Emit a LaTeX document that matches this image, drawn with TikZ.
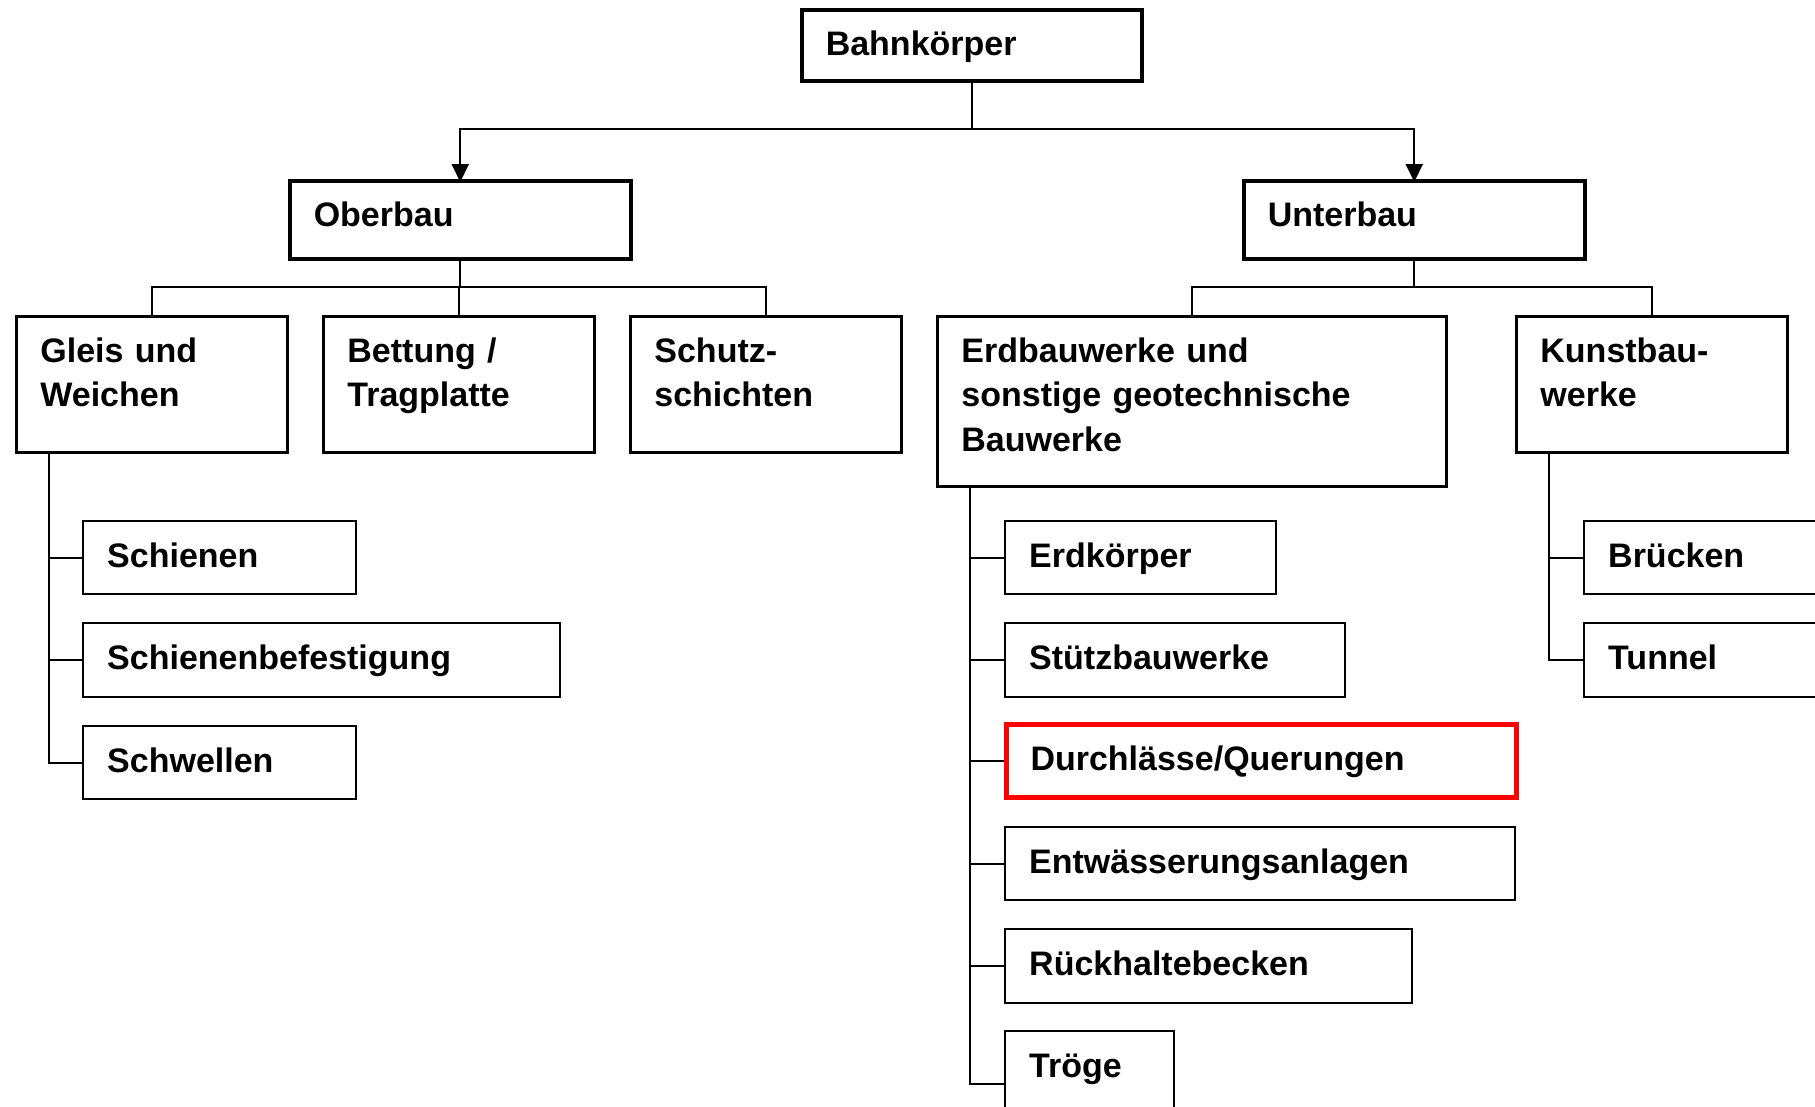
\documentclass[tikz,border=0pt]{standalone}
\usepackage{fontspec}
\setmainfont{Liberation Sans}
\usetikzlibrary{arrows.meta}

\tikzset{
  block/.style 2 args={draw, line width=2.4pt, anchor=north west,
    inner xsep=24pt, inner ysep=0pt, align=left,
    text width=#1, text height=46pt, text depth=#2,
    font=\bfseries\fontsize{34}{44.5}\selectfont},
  topbox/.style={line width=3.5pt},
  midbox/.style={line width=2.8pt},
  markbox/.style={draw=red, line width=5pt},
  link/.style={line width=2pt},
}

\begin{document}
\begin{tikzpicture}[x=1pt, y=-1pt, >={Triangle[length=18pt,width=17pt]}]
%%%
\useasboundingbox (0,0) rectangle (1815,1106);
\clip (0,0) rectangle (1815,1106);

% top level
\node[block={292pt}{25pt}, topbox] (bahn)  at (800,8)    {Bahnkörper};
\node[block={293pt}{32pt}, topbox] (ober)  at (288,179)  {Oberbau};
\node[block={293pt}{32pt}, topbox] (unter) at (1242,179) {Unterbau};

% second level
\node[block={223pt}{90pt}, midbox]  (gleis)   at (15,315)   {Gleis und\\Weichen};
\node[block={223pt}{90pt}, midbox]  (bettung) at (322,315)  {Bettung /\\Tragplatte};
\node[block={223pt}{90pt}, midbox]  (schutz)  at (629,315)  {Schutz-\\schichten};
\node[block={461pt}{124pt}, midbox] (erdbau)  at (936,315)  {Erdbauwerke und\\sonstige geotechnische\\Bauwerke};
\node[block={223pt}{90pt}, midbox]  (kunst)   at (1515,315) {Kunstbau-\\werke};

% Gleis und Weichen
\node[block={225pt}{27pt}] (schienen)  at (82,520) {Schienen};
\node[block={429pt}{28pt}] (befest)    at (82,622) {Schienenbefestigung};
\node[block={225pt}{27pt}] (schwellen) at (82,725) {Schwellen};

% Erdbauwerke
\node[block={223pt}{27pt}] (erdk)   at (1004,520)  {Erdkörper};
\node[block={292pt}{28pt}] (stuetz) at (1004,622)  {Stützbauwerke};
\node[block={462pt}{27pt}, markbox] (durchl) at (1004,722) {Durchlässe/Querungen};
\node[block={462pt}{27pt}] (entw)   at (1004,826)  {Entwässerungsanlagen};
\node[block={359pt}{28pt}] (rueck)  at (1004,928)  {Rückhaltebecken};
\node[block={121pt}{60pt}] (troege) at (1004,1030) {Tröge};

% Kunstbauwerke
\node[block={223pt}{27pt}] (bruecken) at (1583,520) {Brücken};
\node[block={223pt}{28pt}] (tunnel)   at (1583,622) {Tunnel};

% arrows
\draw[link,->] (bahn.south) -- ++(0,46) -| ([yshift=-3pt]ober.north);
\draw[link,->] (bahn.south) -- ++(0,46) -| ([yshift=-3pt]unter.north);

\draw[link] (ober.south) -- ++(0,26) -| (gleis.north);
\draw[link] (ober.south) -- ++(0,26) -| (bettung.north);
\draw[link] (ober.south) -- ++(0,26) -| (schutz.north);
\draw[link] (unter.south) -- ++(0,26) -| (erdbau.north);
\draw[link] (unter.south) -- ++(0,26) -| (kunst.north);

% trunks
\draw[link] ([xshift=34pt]gleis.south west) |- (schienen.west);
\draw[link] ([xshift=34pt]gleis.south west) |- (befest.west);
\draw[link] ([xshift=34pt]gleis.south west) |- (schwellen.west);

\draw[link] ([xshift=34pt]erdbau.south west) |- (erdk.west);
\draw[link] ([xshift=34pt]erdbau.south west) |- (stuetz.west);
\draw[link] ([xshift=34pt]erdbau.south west) |- (durchl.west);
\draw[link] ([xshift=34pt]erdbau.south west) |- (entw.west);
\draw[link] ([xshift=34pt]erdbau.south west) |- (rueck.west);
\draw[link] ([xshift=34pt]erdbau.south west) |- (troege.west);

\draw[link] ([xshift=34pt]kunst.south west) |- (bruecken.west);
\draw[link] ([xshift=34pt]kunst.south west) |- (tunnel.west);
%%%
\end{tikzpicture}
\end{document}
